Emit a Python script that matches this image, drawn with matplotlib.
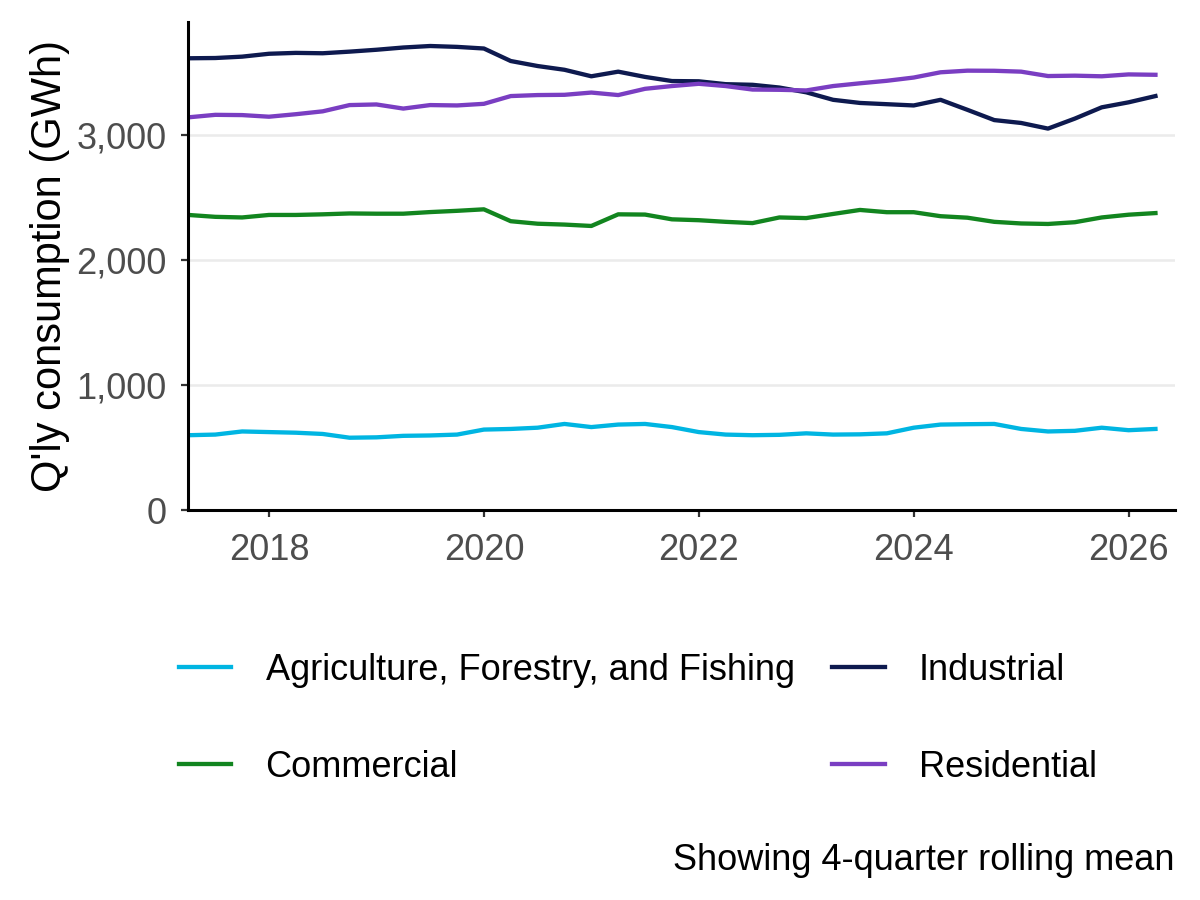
import numpy as np
import matplotlib
matplotlib.use("Agg")
import matplotlib.pyplot as plt
from matplotlib.ticker import FuncFormatter

plt.rcParams['font.family'] = ['Liberation Sans', 'DejaVu Sans']

# quarterly dates, 2017 Q2 .. 2026 Q2 (decimal years)
quarters = np.arange(2017.25, 2026.26, 0.25)

agriculture = [600, 605, 630, 625, 620, 610, 580, 583, 595, 598, 605,
               645, 650, 660, 690, 665, 685, 690, 665, 625, 605, 600,
               603, 615, 605, 607, 615, 660, 685, 688, 690, 650, 630,
               635, 660, 640, 650]
commercial = [2360, 2345, 2340, 2360, 2360, 2365, 2372, 2370, 2370, 2383,
              2393, 2405, 2310, 2290, 2283, 2272, 2365, 2363, 2325, 2318,
              2305, 2295, 2340, 2335, 2368, 2400, 2382, 2382, 2350, 2338,
              2305, 2292, 2288, 2302, 2340, 2362, 2375]
industrial = [3612, 3614, 3625, 3648, 3655, 3652, 3665, 3680, 3698, 3710,
              3703, 3690, 3590, 3550, 3520, 3468, 3505, 3463, 3430, 3428,
              3405, 3400, 3378, 3340, 3280, 3255, 3245, 3235, 3280, 3200,
              3118, 3095, 3050, 3130, 3220, 3260, 3310]
residential = [3140, 3160, 3158, 3145, 3165, 3188, 3238, 3243, 3210, 3238,
               3235, 3248, 3310, 3318, 3320, 3338, 3318, 3368, 3390, 3408,
               3390, 3362, 3360, 3355, 3390, 3412, 3432, 3458, 3500, 3513,
               3512, 3505, 3470, 3473, 3468, 3483, 3480]

sectors = ['Agriculture, Forestry, and Fishing', 'Commercial', 'Industrial', 'Residential']
colors = ['#00B5E2', '#12851F', '#0E1A4F', '#7A3EC2']

fig = plt.figure(figsize=(12, 9), dpi=100)
ax = fig.add_axes([0.157, 0.433, 0.822, 0.543])

for vals, name, col in zip([agriculture, commercial, industrial, residential], sectors, colors):
    ax.plot(quarters, vals, color=col, lw=3.1, label=name, solid_joinstyle='round')

ax.set_xlim(2017.25, 2026.43)
ax.set_ylim(0, 3905)
ax.set_yticks([0, 1000, 2000, 3000])
ax.set_xticks([2018, 2020, 2022, 2024, 2026])
ax.yaxis.set_major_formatter(FuncFormatter(lambda v, p: f"{int(v):,}"))

ax.grid(axis='y', color='#EBEBEB', lw=1.8)
ax.set_axisbelow(True)
for s in ['top', 'right']:
    ax.spines[s].set_visible(False)
for s in ['left', 'bottom']:
    ax.spines[s].set_color('black')
    ax.spines[s].set_linewidth(2.2)

ax.tick_params(axis='both', labelsize=26, colors='#333333', length=5, width=1.6,
               labelcolor='#4D4D4D')
ax.tick_params(axis='y', pad=10.5)
ax.tick_params(axis='x', pad=11)
ax.set_ylabel("Q'ly consumption (GWh)", fontsize=30, color='black', labelpad=5)

leg = fig.legend(loc='upper left', bbox_to_anchor=(0.134, 0.295), ncol=2,
                 frameon=False, fontsize=26, handlelength=1.45, handletextpad=0.95,
                 columnspacing=1.05, labelspacing=1.72, borderpad=0)

fig.text(0.979, 0.044, "Showing 4-quarter rolling mean", ha='right', va='center',
         fontsize=26, color='black')

fig.savefig("out.png", dpi=100)
